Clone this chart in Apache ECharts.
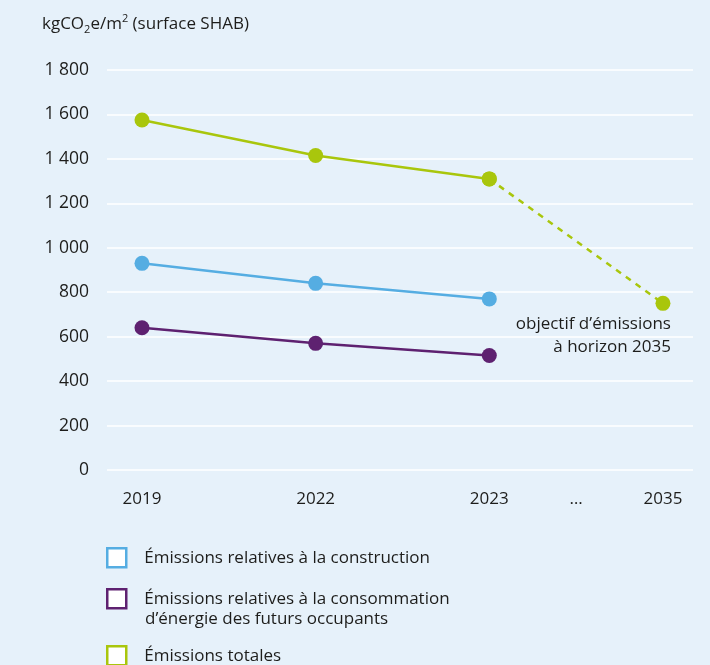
<!DOCTYPE html>
<html>
<head>
<meta charset="utf-8">
<script src="https://cdn.jsdelivr.net/npm/echarts@6/dist/echarts.min.js"></script>
<style>
  html, body { margin: 0; padding: 0; background: #e6f1fa; }
  #chart { width: 710px; height: 665px; }
</style>
</head>
<body>
<div id="chart"></div>
<script>
// positions on the x axis (2035 sits after a "…" gap)
var xPos = [0, 1, 2, 2.5, 3];
var xLabels = ["2019", "2022", "2023", "…", "2035"];
var yTicks = [0, 200, 400, 600, 800, 1000, 1200, 1400, 1600, 1800];

var construction = [930, 840, 770];          // 2019, 2022, 2023
var consommation = [640, 570, 515];
var totales = [1575, 1415, 1310];
var objectif2035 = [1310, 750];               // 2023 -> 2035

var names = [
  "Émissions relatives à la construction",
  "Émissions relatives à la consommation",
  "Émissions totales"
];
var colors = ["#55ade2", "#5e2170", "#a9c60c"];
var font = "Open Sans";
var ink = "#1d1d1b";

function pairs(xs, ys) {
  return ys.map(function (v, i) { return [xs[i], v]; });
}

var chart = echarts.init(document.getElementById("chart"));

function legendAt(i, top) {
  return {
    orient: "vertical",
    left: 106,
    top: top,
    padding: 0,
    itemWidth: 19,
    itemHeight: 19,
    icon: "rect",
    selectedMode: false,
    data: [{
      name: names[i],
      itemStyle: { color: "#fff", borderColor: colors[i], borderWidth: 2.5 }
    }],
    textStyle: { fontSize: 17, color: ink, fontFamily: font, padding: [0, 0, 0, 13] }
  };
}

var option = {
  backgroundColor: "#e6f1fa",
  animation: false,
  title: {
    text: "kgCO{sub|2}e/m{sup|2} (surface SHAB)",
    left: 37,
    top: 8,
    textStyle: {
      fontSize: 17,
      fontWeight: "normal",
      color: ink,
      fontFamily: font,
      lineHeight: 22,
      rich: {
        sub: { fontSize: 11, fontFamily: font, color: ink, verticalAlign: "bottom", lineHeight: 22, padding: [8, 0, 0, 0] },
        sup: { fontSize: 11, fontFamily: font, color: ink, verticalAlign: "top", lineHeight: 22, padding: [0, 0, 4, 0] }
      }
    }
  },
  legend: [legendAt(0, 547), legendAt(1, 588), legendAt(2, 645)],
  graphic: [{
    type: "text",
    left: 145,
    top: 611,
    style: { text: "d’énergie des futurs occupants", fontSize: 17, fill: ink, fontFamily: font }
  }],
  grid: { left: 107, right: 17, top: 70, bottom: 195 },
  xAxis: {
    type: "value",
    min: -0.2015,
    max: 3.173,
    axisLine: { show: false },
    axisTick: { show: false },
    splitLine: { show: false },
    axisLabel: {
      customValues: xPos,
      formatter: function (v) { return xLabels[xPos.indexOf(v)]; },
      margin: 21,
      fontSize: 17,
      color: ink,
      fontFamily: font
    }
  },
  yAxis: {
    type: "value",
    min: yTicks[0],
    max: yTicks[yTicks.length - 1],
    interval: 200,
    axisLine: { show: false },
    axisTick: { show: false },
    splitLine: { lineStyle: { color: "#ffffff", width: 1.5 } },
    axisLabel: {
      margin: 18,
      fontSize: 17.5,
      color: ink,
      fontFamily: font,
      formatter: function (v) { return String(v).replace(/\B(?=(\d{3})+(?!\d))/g, " "); }
    }
  },
  series: [
    {
      name: names[0],
      type: "line",
      data: pairs(xPos, construction),
      color: colors[0],
      symbol: "circle",
      symbolSize: 15,
      lineStyle: { width: 2.5 }
    },
    {
      name: names[1],
      type: "line",
      data: pairs(xPos, consommation),
      color: colors[1],
      symbol: "circle",
      symbolSize: 15,
      lineStyle: { width: 2.5 }
    },
    {
      name: "objectif",
      type: "line",
      data: [
        [xPos[2], objectif2035[0]],
        {
          value: [xPos[4], objectif2035[1]],
          label: {
            show: true,
            position: "bottom",
            align: "right",
            distance: 2,
            offset: [8, 0],
            formatter: "objectif d’émissions\nà horizon 2035",
            fontSize: 17,
            lineHeight: 23,
            color: ink,
            fontFamily: font
          }
        }
      ],
      color: colors[2],
      symbol: "circle",
      symbolSize: 15,
      lineStyle: { width: 2.5, type: [6, 6] }
    },
    {
      name: names[2],
      type: "line",
      data: pairs(xPos, totales),
      color: colors[2],
      symbol: "circle",
      symbolSize: 15,
      lineStyle: { width: 2.5 }
    }
  ]
};

chart.setOption(option);
</script>
</body>
</html>
